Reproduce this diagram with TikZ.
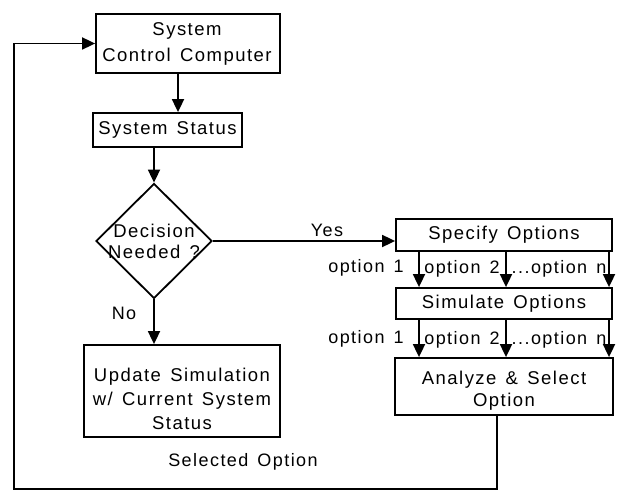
\documentclass[tikz,border=0pt]{standalone}
\usepackage{fontspec}
\setmainfont{Liberation Sans}[LetterSpace=8,WordSpace=1.4]
\usetikzlibrary{arrows.meta,shapes.geometric}
\begin{document}
\begin{tikzpicture}[x=1pt,y=-1pt,line width=1.8pt,
  every node/.style={font=\fontsize{18.5}{24}\selectfont},
  box/.style={draw,rectangle,inner sep=0pt,align=center},
  arr/.style={-{Triangle[length=13pt,width=12pt]}},
  lbl/.style={inner sep=0pt,align=center}]
\useasboundingbox (0,0) rectangle (618,492);
% boxes
\node[box,minimum width=184pt,minimum height=59pt] (scc) at (188,43.5) {};
\node[lbl,font=\fontsize{18.5}{26}\selectfont] (scct) at (187,44) {System\\Control Computer};
\node[box,minimum width=149pt,minimum height=34pt] (ss) at (167.5,130) {System Status};
\node[draw,diamond,aspect=1,minimum width=116pt,minimum height=115pt,inner sep=0pt] (dec) at (154,241) {};
\node[lbl,font=\fontsize{18.5}{21}\selectfont] (dect) at (dec) {Decision\\Needed ?};
\node[box,minimum width=196pt,minimum height=92pt] (upd) at (182,391) {};
\node[lbl] (updt) at (182,399) {Update Simulation\\w/ Current System\\Status};
\node[box,minimum width=216pt,minimum height=32pt] (spec) at (504,235) {Specify Options};
\node[box,minimum width=216pt,minimum height=31pt] (sim) at (504,303.5) {Simulate Options};
\node[box,minimum width=218pt,minimum height=57pt] (ana) at (504,386.5) {};
\node[lbl,font=\fontsize{18.5}{22}\selectfont] (anat) at (504,391) {Analyze \& Select\\Option};
% connectors
\draw[arr] ([xshift=-10pt]scc.south) -- ([xshift=-10pt]scc.south |- ss.north);
\draw[arr] (dec.north |- ss.south) -- (dec.north);
\draw[arr] (dec.south) -- (dec.south |- upd.north);
\draw[arr] (dec.east) -- (dec.east -| spec.west);
\foreach \dx in {-85,2,105}{
  \draw[arr] ([xshift=\dx pt]spec.south) -- ([xshift=\dx pt]spec.south |- sim.north);
  \draw[arr] ([xshift=\dx pt]sim.south) -- ([xshift=\dx pt]sim.south |- ana.north);
}
\coordinate (bl) at (14,489);
\draw[arr] ([xshift=-7pt]ana.south) -- ([xshift=-7pt]ana.south |- bl) -- (bl) -- (bl |- scc.west) -- (scc.west);
% labels
\begin{scope}[every node/.style={font=\fontsize{18}{22}\selectfont}]
\node[lbl] (no) at (124,313) {No};
\node[lbl] (yes) at (327,230) {Yes};
\node[lbl] (o11) at (366,268) {option 1};
\node[lbl] (o12) at (462,269) {option 2};
\node[lbl] (o1n) at (559,269) {...option n};
\node[lbl] (o21) at (366,339) {option 1};
\node[lbl] (o22) at (462,340) {option 2};
\node[lbl] (o2n) at (559,340) {...option n};
\node[lbl] (sel) at (243,462) {Selected Option};
\end{scope}
\end{tikzpicture}
\end{document}
